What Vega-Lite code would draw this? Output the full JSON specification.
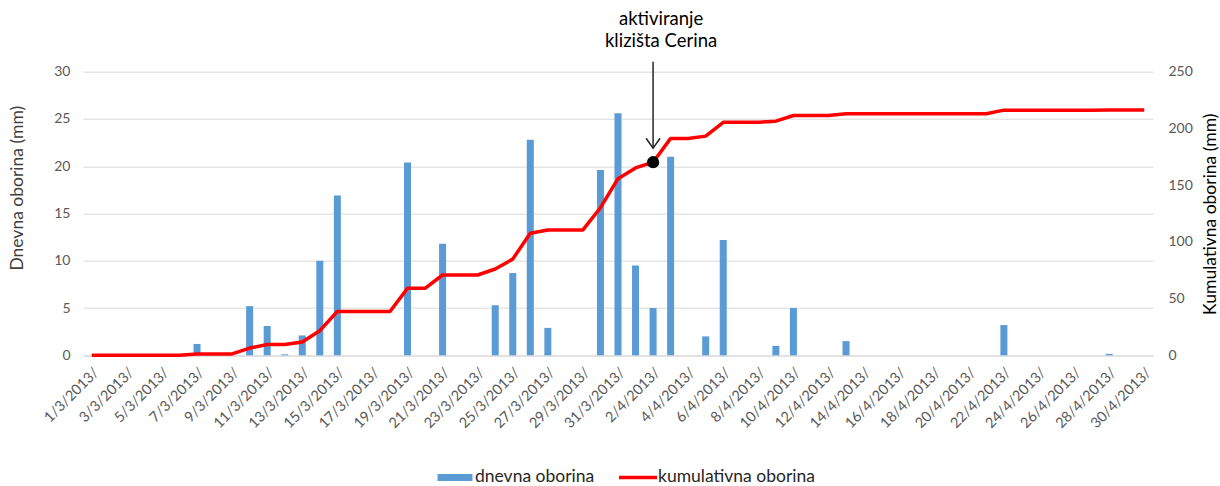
{
  "$schema": "https://vega.github.io/schema/vega-lite/v6.json",
  "width": 1070,
  "height": 283.6,
  "autosize": {"type": "none"},
  "padding": {"left": 83, "top": 71.7, "right": 67, "bottom": 130.7},
  "config": {"font": "Lato", "view": {"stroke": null}},
  "datasets": {
    "oborina": [
      {"dan": "1/3/2013", "dnevna": 0, "kumulativna": 0},
      {"dan": "2/3/2013", "dnevna": 0, "kumulativna": 0},
      {"dan": "3/3/2013", "dnevna": 0, "kumulativna": 0},
      {"dan": "4/3/2013", "dnevna": 0, "kumulativna": 0},
      {"dan": "5/3/2013", "dnevna": 0, "kumulativna": 0},
      {"dan": "6/3/2013", "dnevna": 0, "kumulativna": 0},
      {"dan": "7/3/2013", "dnevna": 1.2, "kumulativna": 1.2},
      {"dan": "8/3/2013", "dnevna": 0, "kumulativna": 1.2},
      {"dan": "9/3/2013", "dnevna": 0, "kumulativna": 1.2},
      {"dan": "10/3/2013", "dnevna": 5.2, "kumulativna": 6.4},
      {"dan": "11/3/2013", "dnevna": 3.1, "kumulativna": 9.5},
      {"dan": "12/3/2013", "dnevna": 0.1, "kumulativna": 9.6},
      {"dan": "13/3/2013", "dnevna": 2.1, "kumulativna": 11.7},
      {"dan": "14/3/2013", "dnevna": 10.0, "kumulativna": 21.7},
      {"dan": "15/3/2013", "dnevna": 16.9, "kumulativna": 38.6},
      {"dan": "16/3/2013", "dnevna": 0, "kumulativna": 38.6},
      {"dan": "17/3/2013", "dnevna": 0, "kumulativna": 38.6},
      {"dan": "18/3/2013", "dnevna": 0, "kumulativna": 38.6},
      {"dan": "19/3/2013", "dnevna": 20.4, "kumulativna": 59.0},
      {"dan": "20/3/2013", "dnevna": 0, "kumulativna": 59.0},
      {"dan": "21/3/2013", "dnevna": 11.8, "kumulativna": 70.8},
      {"dan": "22/3/2013", "dnevna": 0, "kumulativna": 70.8},
      {"dan": "23/3/2013", "dnevna": 0, "kumulativna": 70.8},
      {"dan": "24/3/2013", "dnevna": 5.3, "kumulativna": 76.1},
      {"dan": "25/3/2013", "dnevna": 8.7, "kumulativna": 84.8},
      {"dan": "26/3/2013", "dnevna": 22.8, "kumulativna": 107.6},
      {"dan": "27/3/2013", "dnevna": 2.9, "kumulativna": 110.5},
      {"dan": "28/3/2013", "dnevna": 0, "kumulativna": 110.5},
      {"dan": "29/3/2013", "dnevna": 0, "kumulativna": 110.5},
      {"dan": "30/3/2013", "dnevna": 19.6, "kumulativna": 130.1},
      {"dan": "31/3/2013", "dnevna": 25.6, "kumulativna": 155.7},
      {"dan": "1/4/2013", "dnevna": 9.5, "kumulativna": 165.2},
      {"dan": "2/4/2013", "dnevna": 5.0, "kumulativna": 170.2},
      {"dan": "3/4/2013", "dnevna": 21.0, "kumulativna": 191.2},
      {"dan": "4/4/2013", "dnevna": 0, "kumulativna": 191.2},
      {"dan": "5/4/2013", "dnevna": 2.0, "kumulativna": 193.2},
      {"dan": "6/4/2013", "dnevna": 12.2, "kumulativna": 205.4},
      {"dan": "7/4/2013", "dnevna": 0, "kumulativna": 205.4},
      {"dan": "8/4/2013", "dnevna": 0, "kumulativna": 205.4},
      {"dan": "9/4/2013", "dnevna": 1.0, "kumulativna": 206.4},
      {"dan": "10/4/2013", "dnevna": 5.0, "kumulativna": 211.4},
      {"dan": "11/4/2013", "dnevna": 0, "kumulativna": 211.4},
      {"dan": "12/4/2013", "dnevna": 0, "kumulativna": 211.4},
      {"dan": "13/4/2013", "dnevna": 1.5, "kumulativna": 212.9},
      {"dan": "14/4/2013", "dnevna": 0, "kumulativna": 212.9},
      {"dan": "15/4/2013", "dnevna": 0, "kumulativna": 212.9},
      {"dan": "16/4/2013", "dnevna": 0, "kumulativna": 212.9},
      {"dan": "17/4/2013", "dnevna": 0, "kumulativna": 212.9},
      {"dan": "18/4/2013", "dnevna": 0, "kumulativna": 212.9},
      {"dan": "19/4/2013", "dnevna": 0, "kumulativna": 212.9},
      {"dan": "20/4/2013", "dnevna": 0, "kumulativna": 212.9},
      {"dan": "21/4/2013", "dnevna": 0, "kumulativna": 212.9},
      {"dan": "22/4/2013", "dnevna": 3.2, "kumulativna": 216.1},
      {"dan": "23/4/2013", "dnevna": 0, "kumulativna": 216.1},
      {"dan": "24/4/2013", "dnevna": 0, "kumulativna": 216.1},
      {"dan": "25/4/2013", "dnevna": 0, "kumulativna": 216.1},
      {"dan": "26/4/2013", "dnevna": 0, "kumulativna": 216.1},
      {"dan": "27/4/2013", "dnevna": 0, "kumulativna": 216.1},
      {"dan": "28/4/2013", "dnevna": 0.15, "kumulativna": 216.25},
      {"dan": "29/4/2013", "dnevna": 0, "kumulativna": 216.25},
      {"dan": "30/4/2013", "dnevna": 0, "kumulativna": 216.25}
    ],
    "oznaka": [
      {"dan": "2/4/2013", "vrh": 258.8, "vrh_strelice": 182.5, "tocka": 170.2, "tekst_y": 291.2, "tekst": "aktiviranje\nklizišta Cerina"}
    ]
  },
  "encoding": {
    "x": {
      "field": "dan",
      "type": "ordinal",
      "sort": null,
      "scale": {"paddingInner": 0.6, "paddingOuter": 0.3},
      "axis": {
        "title": null,
        "values": ["1/3/2013","3/3/2013","5/3/2013","7/3/2013","9/3/2013","11/3/2013","13/3/2013","15/3/2013","17/3/2013","19/3/2013","21/3/2013","23/3/2013","25/3/2013","27/3/2013","29/3/2013","31/3/2013","2/4/2013","4/4/2013","6/4/2013","8/4/2013","10/4/2013","12/4/2013","14/4/2013","16/4/2013","18/4/2013","20/4/2013","22/4/2013","24/4/2013","26/4/2013","28/4/2013","30/4/2013"],
        "labelExpr": "datum.label + '/'",
        "labelAngle": -45,
        "labelFontSize": 14.5,
        "labelColor": "#595959",
        "labelPadding": 10,
        "ticks": false,
        "grid": false,
        "domainColor": "#D9D9D9",
        "domainWidth": 1
      }
    }
  },
  "layer": [
    {
      "data": {"name": "oborina"},
      "mark": {"type": "bar"},
      "encoding": {
        "y": {
          "field": "dnevna",
          "type": "quantitative",
          "scale": {"domain": [0, 30], "nice": false},
          "axis": {
            "title": "Dnevna oborina (mm)",
            "values": [0, 5, 10, 15, 20, 25, 30],
            "grid": true,
            "gridColor": "#D9D9D9",
            "domain": false,
            "ticks": false,
            "labelPadding": 13,
            "labelFontSize": 14,
            "labelColor": "#595959",
            "titleFontSize": 17.5,
            "titleFontWeight": "normal",
            "titleColor": "#404040",
            "titleAngle": -90,
            "titleAlign": "center",
            "titleBaseline": "middle",
            "titleX": -66,
            "titleY": 116
          }
        },
        "color": {
          "datum": "dnevna oborina",
          "type": "nominal",
          "scale": {"domain": ["dnevna oborina", "kumulativna oborina"], "range": ["#5B9BD5", "#FF0000"]},
          "legend": {
            "title": null,
            "orient": "none",
            "direction": "horizontal",
            "legendX": 353,
            "legendY": 386.5,
            "padding": 0,
            "symbolSize": 1444,
            "labelFontSize": 17.5,
            "labelColor": "#262626",
            "labelOffset": 1,
            "columnPadding": 24,
            "encode": {
              "symbols": {
                "update": {
                  "shape": {"signal": "datum.value === 'dnevna oborina' ? 'M-0.92,-0.184H0.92V0.184H-0.92Z' : 'M-1,-0.095H1V0.095H-1Z'"},
                  "fill": {"scale": "color", "field": "value"},
                  "stroke": {"value": "transparent"},
                  "strokeWidth": {"value": 0},
                  "opacity": {"value": 1}
                }
              }
            }
          }
        }
      }
    },
    {
      "layer": [
        {
          "data": {"name": "oborina"},
          "mark": {"type": "line", "strokeWidth": 3.5, "strokeJoin": "round"},
          "encoding": {
            "y": {
              "field": "kumulativna",
              "type": "quantitative",
              "scale": {"domain": [0, 250], "nice": false},
              "axis": {
                "orient": "right",
                "title": "Kumulativna oborina (mm)",
                "values": [0, 50, 100, 150, 200, 250],
                "grid": false,
                "domain": false,
                "ticks": false,
                "labelPadding": 15,
                "labelFontSize": 14,
                "labelColor": "#595959",
                "titleFontSize": 17.5,
                "titleFontWeight": "normal",
                "titleColor": "#000000",
                "titleAngle": -90,
                "titleAlign": "center",
                "titleBaseline": "middle",
                "titleX": 57,
                "titleY": 142
              }
            },
            "color": {"datum": "kumulativna oborina", "type": "nominal"}
          }
        },
        {
          "data": {"name": "oznaka"},
          "mark": {"type": "rule", "color": "#262626", "strokeWidth": 1.5},
          "encoding": {
            "y": {"field": "vrh", "type": "quantitative", "title": "Kumulativna oborina (mm)"},
            "y2": {"field": "vrh_strelice"}
          }
        },
        {
          "data": {"name": "oznaka"},
          "mark": {"type": "point", "shape": "M-1,-1.43L0,0L1,-1.43", "filled": false, "size": 196, "strokeWidth": 1.5, "color": "#262626", "opacity": 1},
          "encoding": {
            "y": {"field": "vrh_strelice", "type": "quantitative", "title": "Kumulativna oborina (mm)"}
          }
        },
        {
          "data": {"name": "oznaka"},
          "mark": {"type": "point", "filled": true, "size": 150, "color": "#000000", "opacity": 1},
          "encoding": {
            "y": {"field": "tocka", "type": "quantitative", "title": "Kumulativna oborina (mm)"}
          }
        },
        {
          "data": {"name": "oznaka"},
          "mark": {"type": "text", "align": "center", "baseline": "alphabetic", "dx": 8, "fontSize": 18.5, "color": "#000000", "lineBreak": "\n", "lineHeight": 22},
          "encoding": {
            "y": {"field": "tekst_y", "type": "quantitative", "title": "Kumulativna oborina (mm)"},
            "text": {"field": "tekst"}
          }
        }
      ]
    }
  ],
  "resolve": {"scale": {"y": "independent"}}
}
